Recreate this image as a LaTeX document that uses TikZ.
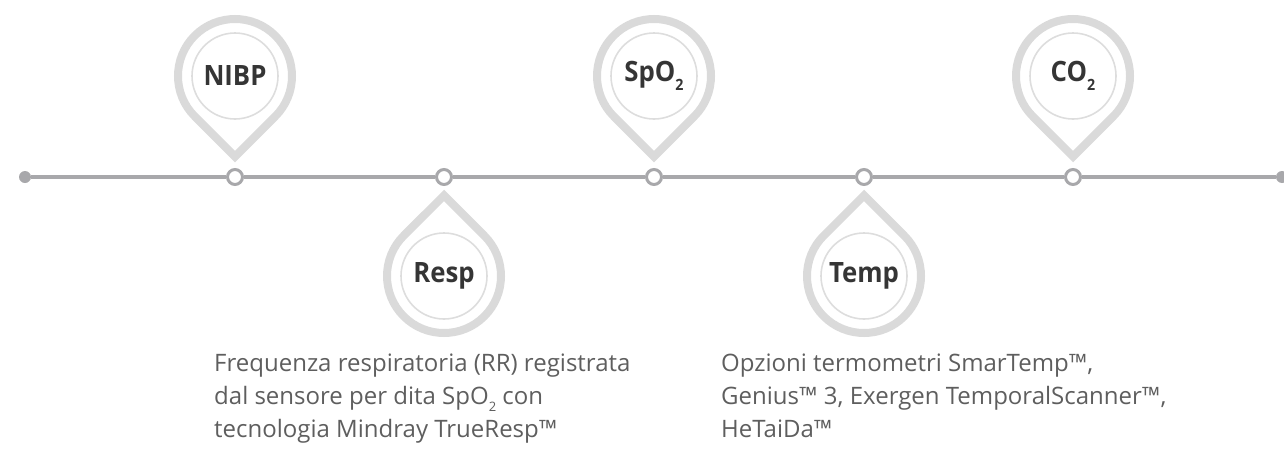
\documentclass[tikz,border=0pt]{standalone}
\usepackage{fontspec}
\setmainfont{Open Sans}
\newfontfamily\labelfont{Open Sans}[FakeStretch=0.92]
\newfontfamily\descfont{Open Sans}
\definecolor{pinc}{HTML}{DADADA}
\definecolor{innerc}{HTML}{DDDDDD}
\definecolor{linec}{HTML}{A8A8AB}
\definecolor{labc}{HTML}{353535}
\definecolor{txtc}{HTML}{5E5E5E}
\newcommand{\subtwo}{\raisebox{-0.32em}{\fontsize{15.5}{15.5}\selectfont 2}}
\newcommand{\dsubtwo}{\raisebox{-0.3em}{\fontsize{13}{13}\selectfont 2}}
\begin{document}
\begin{tikzpicture}[x=1pt,y=1pt,
  pinlabel/.style={circle, draw=innerc, line width=1.6pt, minimum size=86pt, inner sep=0pt,
    font=\labelfont\bfseries\fontsize{28}{30}\selectfont, text=labc},
  pinring/.style={draw=pinc, line width=8pt, line join=miter},
  tick/.style={circle, draw=linec, fill=white, line width=3pt, minimum size=15pt, inner sep=0pt},
  enddot/.style={circle, fill=linec, minimum size=12pt, inner sep=0pt},
  tline/.style={draw=linec, line width=4pt},
  desc/.style={align=left, inner sep=0pt, text=txtc,
    font=\descfont\fontsize{24}{33}\selectfont}]
\useasboundingbox (0,0) rectangle (1284,-469);
% timeline
\node[enddot] (s) at (25,-177) {};
\node[enddot] (e) at (1282,-177) {};
\node[tick] (t1) at (235,-177) {};
\node[tick] (t2) at (444,-177) {};
\node[tick] (t3) at (654,-177) {};
\node[tick] (t4) at (864,-177) {};
\node[tick] (t5) at (1073,-177) {};
\draw[tline] (s) -- (t1) (t1) -- (t2) (t2) -- (t3) (t3) -- (t4) (t4) -- (t5) (t5) -- (e);
% pins above
\foreach \n/\x/\t in {nibp/235/NIBP, spo/654/SpO\subtwo, co/1073/CO\subtwo}{
  \node[pinlabel] (\n) at (\x,-76) {\t};
  \draw[pinring] ([yshift=-80.6pt]\n.center) -- ([shift={(-45:57)}]\n.center)
    arc[start angle=-45, end angle=225, radius=57] -- cycle;
}
% pins below
\foreach \n/\x/\t in {resp/444/Resp, temp/864/Temp}{
  \node[pinlabel] (\n) at (\x,-276) {\t};
  \draw[pinring] ([yshift=80.6pt]\n.center) -- ([shift={(45:57)}]\n.center)
    arc[start angle=45, end angle=-225, radius=57] -- cycle;
}
% descriptions (anchor at baseline of last line)
\node[desc, anchor=base west] (resptext) at (214,-437)
  {Frequenza respiratoria (RR) registrata\\dal sensore per dita SpO\dsubtwo{} con\\tecnologia Mindray TrueResp™};
\node[desc, anchor=base west] (temptext) at (721,-437)
  {Opzioni termometri SmarTemp™,\\Genius™ 3, Exergen TemporalScanner™,\\HeTaiDa™};
\end{tikzpicture}
\end{document}
